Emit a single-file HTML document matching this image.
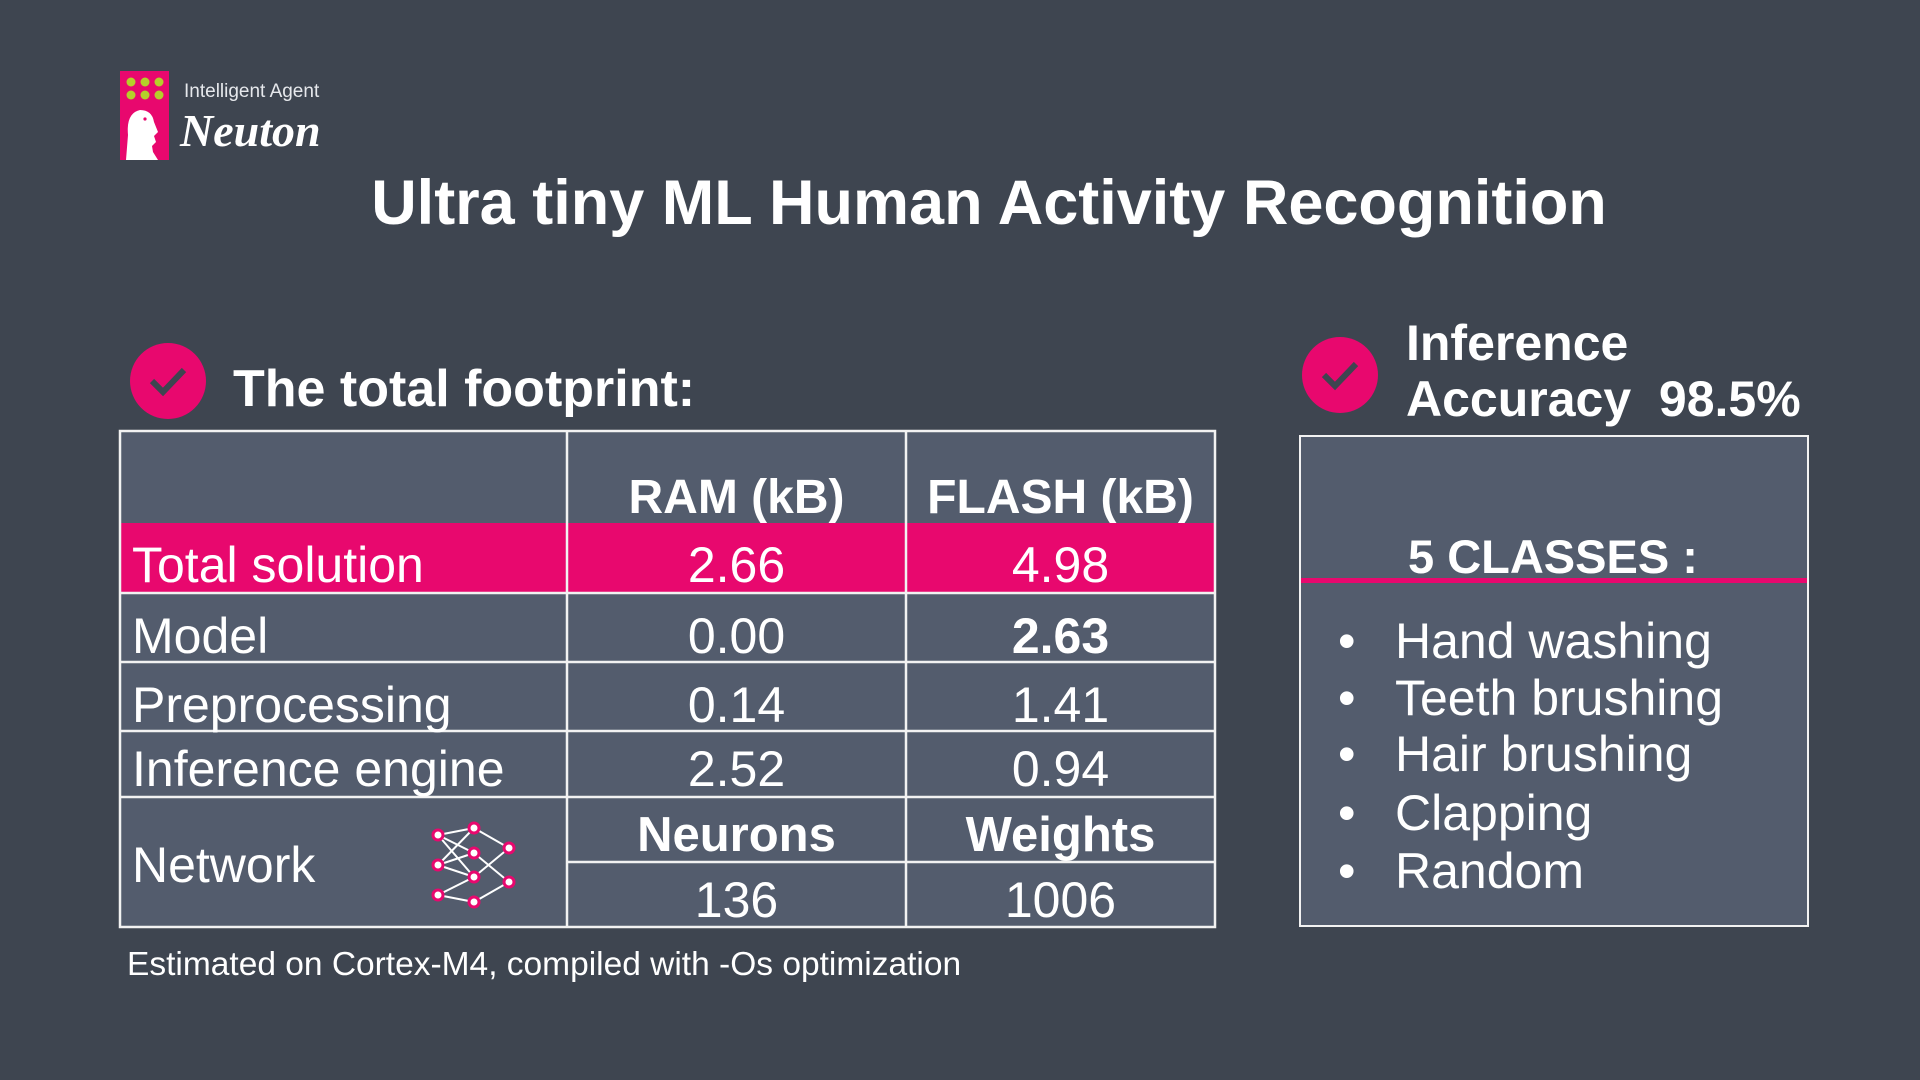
<!DOCTYPE html>
<html><head><meta charset="utf-8"><style>
*{margin:0;padding:0;box-sizing:border-box}
body{width:1920px;height:1080px;background:#3e4550;position:relative;overflow:hidden;font-family:"Liberation Sans",sans-serif;color:#fff}
.t{position:absolute;line-height:1;white-space:nowrap}
.c{text-align:center}
.b{font-weight:bold}
</style></head><body>
<!-- logo -->
<svg style="position:absolute;left:0;top:0" width="400" height="200">
<rect x="120" y="71" width="49" height="89" fill="#e8086e"/>
<g fill="#b5cf2a">
<circle cx="131" cy="82" r="4.5"/><circle cx="145" cy="82" r="4.5"/><circle cx="159" cy="82" r="4.5"/>
<circle cx="131" cy="95" r="4.5"/><circle cx="145" cy="95" r="4.5"/><circle cx="159" cy="95" r="4.5"/>
</g>
<path d="M126 160 L128 135 Q126 113 140 110 Q152 110 154 122 L158 132 L154 136 L156 142 L152 146 L153 152 L158 160 Z" fill="#fff"/>
<circle cx="145" cy="119" r="1.6" fill="#e8086e"/>
</svg>
<div class="t" style="left:184px;top:82px;font-size:19px;color:#e6e8ec">Intelligent Agent</div>
<div class="t" style="left:180px;top:108px;font-size:46px;font-family:'Liberation Serif',serif;font-style:italic;font-weight:bold">Neuton</div>

<div class="t b c" style="left:0;width:1978px;top:172px;font-size:63px">Ultra tiny ML Human Activity Recognition</div>

<!-- left check -->
<svg style="position:absolute;left:130px;top:343px" width="76" height="76"><circle cx="38" cy="38" r="38" fill="#e8086e"/><path d="M22 38 L33 49 L54 27" stroke="#3e4550" stroke-width="6" fill="none"/></svg>
<div class="t b" style="left:233px;top:363px;font-size:52px">The total footprint:</div>

<!-- table -->
<svg style="position:absolute;left:0;top:0" width="1920" height="1080">
<rect x="120" y="431" width="1095" height="496" fill="#535c6d"/>
<rect x="120" y="523" width="1095" height="70" fill="#e8086e"/>
<g stroke="#f2f2f2" stroke-width="2.5" fill="none">
<rect x="120" y="431" width="1095" height="496"/>
<line x1="567" y1="431" x2="567" y2="927"/><line x1="906" y1="431" x2="906" y2="927"/>
<line x1="120" y1="593" x2="1215" y2="593"/><line x1="120" y1="662" x2="1215" y2="662"/>
<line x1="120" y1="731" x2="1215" y2="731"/><line x1="120" y1="797" x2="1215" y2="797"/>
<line x1="567" y1="862" x2="1215" y2="862"/>
</g>
<g stroke="#fff" stroke-width="2">
<line x1="438" y1="835" x2="474" y2="828"/><line x1="438" y1="835" x2="474" y2="853"/>
<line x1="438" y1="865" x2="474" y2="853"/><line x1="438" y1="865" x2="474" y2="877"/><line x1="438" y1="865" x2="474" y2="828"/>
<line x1="438" y1="895" x2="474" y2="877"/><line x1="438" y1="895" x2="474" y2="902"/><line x1="438" y1="835" x2="474" y2="877"/>
<line x1="474" y1="828" x2="509" y2="848"/><line x1="474" y1="853" x2="509" y2="882"/><line x1="474" y1="877" x2="509" y2="848"/><line x1="474" y1="902" x2="509" y2="882"/>
</g>
<g fill="#fff" stroke="#e8086e" stroke-width="3">
<circle cx="438" cy="835" r="5"/><circle cx="438" cy="865" r="5"/><circle cx="438" cy="895" r="5"/>
<circle cx="474" cy="828" r="5"/><circle cx="474" cy="853" r="5"/><circle cx="474" cy="877" r="5"/><circle cx="474" cy="902" r="5"/>
<circle cx="509" cy="848" r="5"/><circle cx="509" cy="882" r="5"/>
</g>
</svg>
<div class="t b c" style="left:567px;width:339px;top:474px;font-size:48px">RAM (kB)</div>
<div class="t b c" style="left:906px;width:309px;top:474px;font-size:48px">FLASH (kB)</div>

<div class="t" style="left:132px;top:540px;font-size:50px">Total solution</div>
<div class="t c" style="left:567px;width:339px;top:540px;font-size:50px">2.66</div>
<div class="t c" style="left:906px;width:309px;top:540px;font-size:50px">4.98</div>

<div class="t" style="left:132px;top:611px;font-size:50px">Model</div>
<div class="t c" style="left:567px;width:339px;top:611px;font-size:50px">0.00</div>
<div class="t c b" style="left:906px;width:309px;top:611px;font-size:50px">2.63</div>

<div class="t" style="left:132px;top:680px;font-size:50px">Preprocessing</div>
<div class="t c" style="left:567px;width:339px;top:680px;font-size:50px">0.14</div>
<div class="t c" style="left:906px;width:309px;top:680px;font-size:50px">1.41</div>

<div class="t" style="left:132px;top:744px;font-size:50px">Inference engine</div>
<div class="t c" style="left:567px;width:339px;top:744px;font-size:50px">2.52</div>
<div class="t c" style="left:906px;width:309px;top:744px;font-size:50px">0.94</div>

<div class="t" style="left:132px;top:840px;font-size:50px">Network</div>
<div class="t c b" style="left:567px;width:339px;top:811px;font-size:49px">Neurons</div>
<div class="t c b" style="left:906px;width:309px;top:811px;font-size:49px">Weights</div>
<div class="t c" style="left:567px;width:339px;top:875px;font-size:50px">136</div>
<div class="t c" style="left:906px;width:309px;top:875px;font-size:50px">1006</div>

<div class="t" style="left:127px;top:948px;font-size:33.5px">Estimated on Cortex-M4, compiled with -Os optimization</div>

<!-- right -->
<svg style="position:absolute;left:1302px;top:337px" width="76" height="76"><circle cx="38" cy="38" r="38" fill="#e8086e"/><path d="M22 38 L33 49 L54 27" stroke="#3e4550" stroke-width="6" fill="none"/></svg>
<div class="t b" style="left:1406px;top:318px;font-size:50px">Inference</div>
<div class="t b" style="left:1406px;top:374px;font-size:50px">Accuracy&nbsp; 98.5%</div>

<div style="position:absolute;left:1299px;top:435px;width:510px;height:492px;background:#535c6d;border:2.5px solid #f2f2f2"></div>
<div style="position:absolute;left:1301px;top:578px;width:506px;height:5px;background:#e8086e"></div>
<div class="t b" style="left:1408px;top:533px;font-size:47px">5 CLASSES :</div>
<div class="t" style="left:1338px;top:616px;font-size:50px">•</div><div class="t" style="left:1395px;top:616px;font-size:50px">Hand washing</div>
<div class="t" style="left:1338px;top:673px;font-size:50px">•</div><div class="t" style="left:1395px;top:673px;font-size:50px">Teeth brushing</div>
<div class="t" style="left:1338px;top:729px;font-size:50px">•</div><div class="t" style="left:1395px;top:729px;font-size:50px">Hair brushing</div>
<div class="t" style="left:1338px;top:788px;font-size:50px">•</div><div class="t" style="left:1395px;top:788px;font-size:50px">Clapping</div>
<div class="t" style="left:1338px;top:846px;font-size:50px">•</div><div class="t" style="left:1395px;top:846px;font-size:50px">Random</div>
</body></html>
